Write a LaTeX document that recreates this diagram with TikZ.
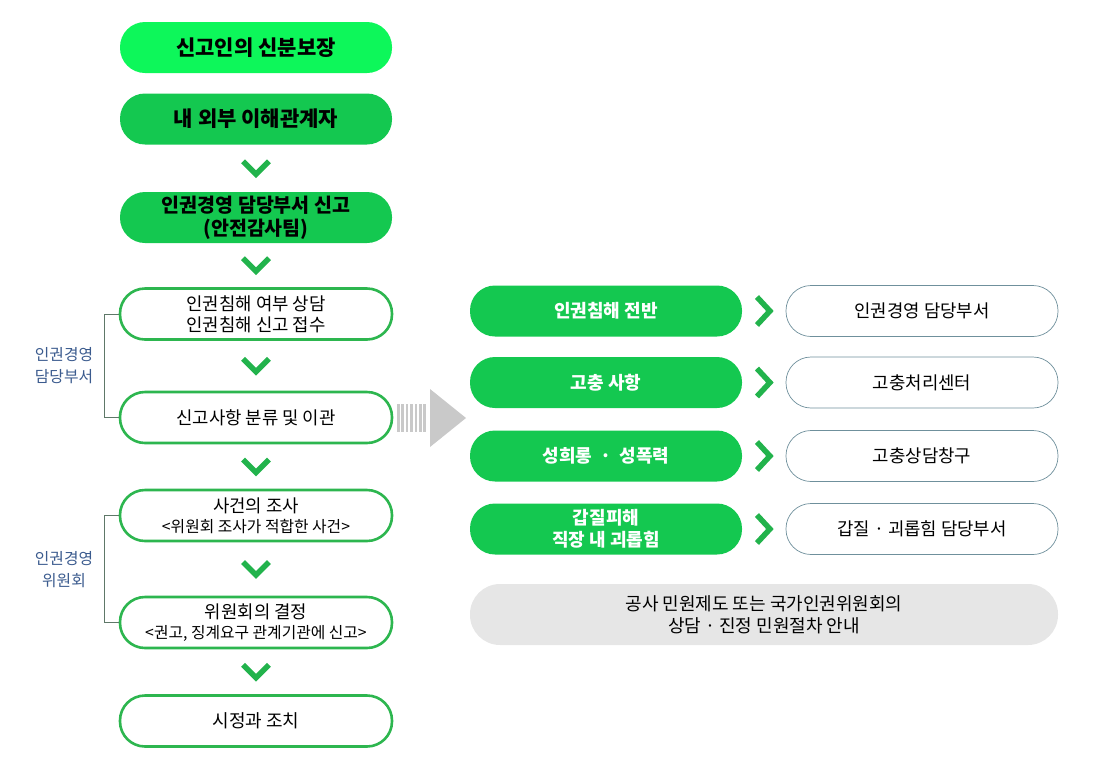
\documentclass[tikz,border=0pt]{standalone}
\usepackage{fontspec}
\setmainfont{Noto Sans CJK KR}
\usetikzlibrary{calc}
\definecolor{limegreen}{HTML}{0DF75A}
\definecolor{maingreen}{HTML}{14C850}
\definecolor{chevgreen}{HTML}{22B34C}
\definecolor{linegreen}{HTML}{2DB64F}
\definecolor{sideblue}{HTML}{3B5B8E}
\definecolor{boxgray}{HTML}{E6E6E6}
\definecolor{arrowgray}{HTML}{C9C9C9}
\definecolor{pillline}{HTML}{6F909C}
\definecolor{bracketline}{HTML}{5E7868}
\tikzset{
    pill/.style={rounded corners=25pt, minimum width=272pt, minimum height=51pt,
        align=center, inner sep=0pt},
    toppill/.style={pill, fill=limegreen, font=\bfseries\fontsize{21}{24}\selectfont},
    greenpill/.style={pill, fill=maingreen, font=\bfseries\fontsize{21}{24}\selectfont},
    linepill/.style={pill, draw=linegreen, line width=2.6pt, fill=white,
        font=\fontsize{17.8}{21}\selectfont},
    sortpill/.style={pill, fill=maingreen, text=white, font=\bfseries\fontsize{18}{22}\selectfont},
    deptpill/.style={pill, draw=pillline, line width=0.7pt, fill=white,
        font=\fontsize{17.8}{22}\selectfont},
    sidelabel/.style={align=center, text=sideblue, font=\fontsize{15.8}{22}\selectfont},
    chevdown/.style={chevgreen, line width=5.5pt, line join=miter},
    chevright/.style={chevgreen, line width=5.5pt, line join=miter},
    bracket/.style={bracketline, line width=0.8pt}
}
\newcommand{\subline}[1]{{\fontsize{15.8}{19}\selectfont #1}}
\begin{document}
\begin{tikzpicture}[x=1pt, y=-1pt]
    \useasboundingbox (0,0) rectangle (1100,780);
    % left column
    \coordinate (B1) at (256,47.5);
    \coordinate (B2) at (256,119);
    \coordinate (B3) at (256,217.5);
    \coordinate (B4) at (256,314);
    \coordinate (B5) at (256,417.5);
    \coordinate (B6) at (256,515.5);
    \coordinate (B7) at (256,622.5);
    \coordinate (B8) at (256,721);
    % right columns
    \coordinate (R1) at (606,311);
    \coordinate (R2) at (606,382.5);
    \coordinate (R3) at (606,456);
    \coordinate (R4) at (606,529);
    \coordinate (W1) at (922,311);
    \coordinate (W2) at (922,382.5);
    \coordinate (W3) at (922,456);
    \coordinate (W4) at (922,529);
    \coordinate (G) at (764,614.5);

    \node[toppill] (b1) at (B1) {신고인의 신분보장};
    \node[greenpill] (b2) at (B2) {내 외부 이해관계자};
    \node[greenpill, font=\bfseries\fontsize{19.5}{23}\selectfont] (b3) at (B3)
        {인권경영 담당부서 신고\\(안전감사팀)};
    \node[linepill] (b4) at (B4) {인권침해 여부 상담\\인권침해 신고 접수};
    \node[linepill] (b5) at (B5) {신고사항 분류 및 이관};
    \node[linepill, font=\fontsize{17.8}{20}\selectfont] (b6) at (B6)
        {사건의 조사\\\subline{<위원회 조사가 적합한 사건>}};
    \node[linepill, font=\fontsize{17.8}{20}\selectfont] (b7) at (B7)
        {위원회의 결정\\\subline{<권고, 징계요구 관계기관에 신고>}};
    \node[linepill, font=\fontsize{18}{21}\selectfont] (b8) at (B8) {시정과 조치};

    \node[sortpill] (r1) at (R1) {인권침해 전반};
    \node[sortpill] (r2) at (R2) {고충 사항};
    \node[sortpill] (r3) at (R3) {성희롱 \ · \ 성폭력};
    \node[sortpill] (r4) at (R4) {갑질피해\\직장 내 괴롭힘};
    \node[deptpill] (w1) at (W1) {인권경영 담당부서};
    \node[deptpill] (w2) at (W2) {고충처리센터};
    \node[deptpill] (w3) at (W3) {고충상담창구};
    \node[deptpill] (w4) at (W4) {갑질 · 괴롭힘 담당부서};
    \node[pill, fill=boxgray, minimum width=588pt, minimum height=61pt,
        rounded corners=30pt, font=\fontsize{18}{22.5}\selectfont] (g) at (G)
        {공사 민원제도 또는 국가인권위원회의\\상담 · 진정 민원절차 안내};

    % down chevrons between steps
    \draw[chevdown] ($(b2.south)!0.5!(b3.north)$) +(-13,-7) -- +(0,6) -- +(13,-7);
    \draw[chevdown] ($(b3.south)!0.5!(b4.north)$) +(-13,-7) -- +(0,6) -- +(13,-7);
    \draw[chevdown] ($(b4.south)!0.5!(b5.north)$) +(-13,-7) -- +(0,6) -- +(13,-7);
    \draw[chevdown] ($(b5.south)!0.5!(b6.north)$) +(-13,-7) -- +(0,6) -- +(13,-7);
    \draw[chevdown] ($(b6.south)!0.5!(b7.north)$) +(-13,-7) -- +(0,6) -- +(13,-7);
    \draw[chevdown] ($(b7.south)!0.5!(b8.north)$) +(-13,-7) -- +(0,6) -- +(13,-7);

    % right chevrons
    \draw[chevright] ($(r1.east)!0.5!(w1.west)$) +(-7,-14) -- +(6,0) -- +(-7,14);
    \draw[chevright] ($(r2.east)!0.5!(w2.west)$) +(-7,-14) -- +(6,0) -- +(-7,14);
    \draw[chevright] ($(r3.east)!0.5!(w3.west)$) +(-7,-14) -- +(6,0) -- +(-7,14);
    \draw[chevright] ($(r4.east)!0.5!(w4.west)$) +(-7,-14) -- +(6,0) -- +(-7,14);

    % brackets and side labels
    \draw[bracket] (b4.west) -- ++(-14,0) |- (b5.west);
    \draw[bracket] (b6.west) -- ++(-14,0) |- (b7.west);
    \node[sidelabel] (s1) at (64,366) {인권경영\\담당부서};
    \node[sidelabel] (s2) at (64,570) {인권경영\\위원회};

    % big gray arrow
    \foreach \i in {0,...,6}
        \fill[arrowgray] (397+4.4*\i,404) rectangle ++(2.6,28);
    \fill[arrowgray] (430,389) -- (466,418) -- (430,447) -- cycle;
\end{tikzpicture}
\end{document}
